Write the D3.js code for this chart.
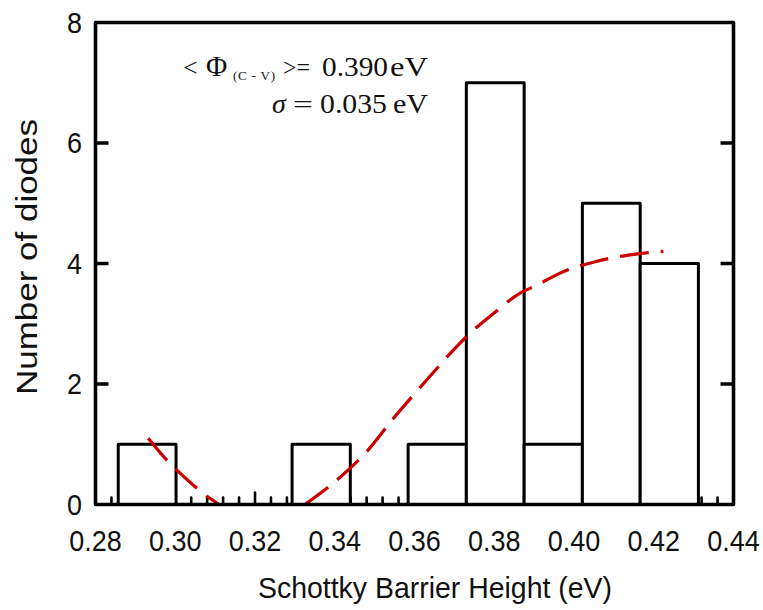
<!DOCTYPE html>
<html>
<head>
<meta charset="utf-8">
<script src="https://cdn.jsdelivr.net/npm/d3@7"></script>
<style>
  html, body { margin: 0; padding: 0; background: #ffffff; }
  svg { display: block; }
</style>
</head>
<body>
<div id="chart"></div>
<script>
// Histogram of Schottky barrier heights with a fitted curve.

// Bin edges (eV) and number of diodes in each bin
const binEdges = [0.2857, 0.3002, 0.3148, 0.3293, 0.3439, 0.3584, 0.3730, 0.3875, 0.4021, 0.4166, 0.4312];
const counts   = [1, 0, 0, 1, 0, 1, 7, 1, 5, 4];

// Fitted distribution curve (null marks where it leaves the plot, below zero)
const fitX = [0.2932, 0.2987, 0.3012, 0.3075, 0.3110, null, 0.3325, 0.3388, 0.3438, 0.3472, 0.3551, 0.3631, 0.3710, 0.3739, 0.3798, 0.3865, 0.3907, 0.3965, 0.4053, 0.4136, 0.4224];
const fitY = [1.10, 0.68, 0.52, 0.16, 0.00, null, 0.00, 0.31, 0.60, 0.82, 1.46, 2.07, 2.65, 2.84, 3.17, 3.51, 3.64, 3.84, 4.03, 4.14, 4.20];

// Axis ticks
const xTicks = [0.28, 0.30, 0.32, 0.34, 0.36, 0.38, 0.40, 0.42, 0.44];
const xMinorStep = 0.004;
const yTicks = [0, 2, 4, 6, 8];
const yInnerTicks = [2, 4, 6];

// Annotation text
const meanLabel = { pre: "<", sym: "Φ", sub: "(C - V)", rel: ">=", value: "0.390", unit: "eV" };
const sigmaLabel = { sym: "σ", rel: "=", value: "0.035", unit: "eV" };

const W = 763, H = 610;
const M = { left: 95.5, right: 733.5, top: 22.5, bottom: 504.5 };

const svg = d3.select("#chart").append("svg")
  .attr("width", W).attr("height", H)
  .attr("viewBox", `0 0 ${W} ${H}`);

svg.append("rect").attr("width", W).attr("height", H).attr("fill", "#ffffff");

const x = d3.scaleLinear().domain([0.28, 0.44]).range([M.left, M.right]);
const y = d3.scaleLinear().domain([0, 8]).range([M.bottom, M.top]);

const sans = "'Liberation Sans', Arial, Helvetica, sans-serif";
const serif = "'Liberation Serif', 'Times New Roman', serif";

// Minor and major ticks along the bottom axis, pointing into the plot
const isMajor = d => xTicks.some(t => Math.abs(t - d) < 1e-6);
const bottomTicks = d3.range(0.284, 0.4395, xMinorStep);
svg.append("g")
  .selectAll("line")
  .data(bottomTicks)
  .join("line")
  .attr("x1", d => x(d)).attr("x2", d => x(d))
  .attr("y1", M.bottom)
  .attr("y2", d => M.bottom - (isMajor(d) ? 12 : 7))
  .attr("stroke", "#000").attr("stroke-width", 2.6).attr("stroke-linecap", "round");

// Histogram bars
const bins = counts.map((c, i) => ({ x0: binEdges[i], x1: binEdges[i + 1], n: c }));
svg.append("g")
  .selectAll("rect")
  .data(bins.filter(b => b.n > 0))
  .join("rect")
  .attr("x", d => x(d.x0))
  .attr("y", d => y(d.n))
  .attr("width", d => x(d.x1) - x(d.x0))
  .attr("height", d => y(0) - y(d.n))
  .attr("fill", "#ffffff")
  .attr("stroke", "#000")
  .attr("stroke-width", 3)
  .attr("stroke-linejoin", "round");

// Fitted curve, clipped to the plot frame
svg.append("clipPath").attr("id", "plotClip")
  .append("rect").attr("x", M.left).attr("y", M.top - 2)
  .attr("width", M.right - M.left).attr("height", M.bottom - M.top + 4);

const fitPts = fitX.map((v, i) => ({ x: v, y: fitY[i] }));
const line = d3.line()
  .defined(d => d.x !== null && d.y !== null)
  .x(d => x(d.x)).y(d => y(d.y))
  .curve(d3.curveMonotoneX);

svg.append("path")
  .datum(fitPts)
  .attr("clip-path", "url(#plotClip)")
  .attr("d", line)
  .attr("fill", "none")
  .attr("stroke", "#cc0000")
  .attr("stroke-width", 3.2)
  .attr("stroke-dasharray", "29 12");

// Left and right inner ticks
const yt = svg.append("g");
yt.selectAll("line.l").data(yInnerTicks).join("line").attr("class", "l")
  .attr("x1", M.left).attr("x2", M.left + 13)
  .attr("y1", d => y(d)).attr("y2", d => y(d))
  .attr("stroke", "#000").attr("stroke-width", 3.5);
yt.selectAll("line.r").data(yInnerTicks).join("line").attr("class", "r")
  .attr("x1", M.right).attr("x2", M.right - 13)
  .attr("y1", d => y(d)).attr("y2", d => y(d))
  .attr("stroke", "#000").attr("stroke-width", 3.5);

// Plot frame
svg.append("rect")
  .attr("x", M.left).attr("y", M.top)
  .attr("width", M.right - M.left).attr("height", M.bottom - M.top)
  .attr("fill", "none").attr("stroke", "#000")
  .attr("stroke-width", 3.6).attr("stroke-linejoin", "round");

// X tick labels
svg.append("g")
  .selectAll("g")
  .data(xTicks)
  .join("g")
  .attr("transform", d => `translate(${x(d)},551) scale(1,1.08)`)
  .append("text")
  .attr("text-anchor", "middle")
  .attr("font-family", sans).attr("font-size", 27).attr("fill", "#111")
  .text(d => d3.format(".2f")(d));

// Y tick labels
svg.append("g")
  .selectAll("g")
  .data(yTicks)
  .join("g")
  .attr("transform", d => `translate(82,${y(d) + 10}) scale(1,1.08)`)
  .append("text")
  .attr("text-anchor", "end")
  .attr("font-family", sans).attr("font-size", 27).attr("fill", "#111")
  .text(d => d);

// Axis titles
svg.append("text")
  .attr("x", 435).attr("y", 598)
  .attr("text-anchor", "middle")
  .attr("font-family", sans).attr("font-size", 30).attr("fill", "#111")
  .attr("textLength", 354).attr("lengthAdjust", "spacingAndGlyphs")
  .text("Schottky Barrier Height (eV)");

svg.append("text")
  .attr("transform", "translate(37,257) rotate(-90)")
  .attr("text-anchor", "middle")
  .attr("font-family", sans).attr("font-size", 30).attr("fill", "#111")
  .attr("textLength", 276).attr("lengthAdjust", "spacingAndGlyphs")
  .text("Number of diodes");

// Annotation: mean barrier height and standard deviation
const ann = svg.append("g").attr("font-family", serif).attr("fill", "#111");
const base1 = 76, base2 = 113;

ann.append("text").attr("x", 183).attr("y", base1).attr("font-size", 26).text(meanLabel.pre);
ann.append("text").attr("x", 206).attr("y", base1).attr("font-size", 29).text(meanLabel.sym);
ann.append("text").attr("x", 233).attr("y", base1 + 4).attr("font-size", 13)
  .attr("textLength", 42).attr("lengthAdjust", "spacing").text(meanLabel.sub);
ann.append("text").attr("x", 283).attr("y", base1).attr("font-size", 26)
  .attr("textLength", 27).attr("lengthAdjust", "spacingAndGlyphs").text(meanLabel.rel);
ann.append("text").attr("x", 322).attr("y", base1).attr("font-size", 27)
  .attr("textLength", 66).attr("lengthAdjust", "spacingAndGlyphs").text(meanLabel.value);
ann.append("text").attr("x", 390).attr("y", base1).attr("font-size", 27)
  .attr("textLength", 38).attr("lengthAdjust", "spacingAndGlyphs").text(meanLabel.unit);

ann.append("text").attr("x", 272).attr("y", base2).attr("font-size", 28)
  .attr("font-style", "italic").text(sigmaLabel.sym);
ann.append("text").attr("x", 293).attr("y", base2).attr("font-size", 26)
  .attr("textLength", 20).attr("lengthAdjust", "spacingAndGlyphs").text(sigmaLabel.rel);
ann.append("text").attr("x", 320).attr("y", base2).attr("font-size", 27)
  .attr("textLength", 67).attr("lengthAdjust", "spacingAndGlyphs").text(sigmaLabel.value);
ann.append("text").attr("x", 393).attr("y", base2).attr("font-size", 27)
  .attr("textLength", 35).attr("lengthAdjust", "spacingAndGlyphs").text(sigmaLabel.unit);
</script>
</body>
</html>
